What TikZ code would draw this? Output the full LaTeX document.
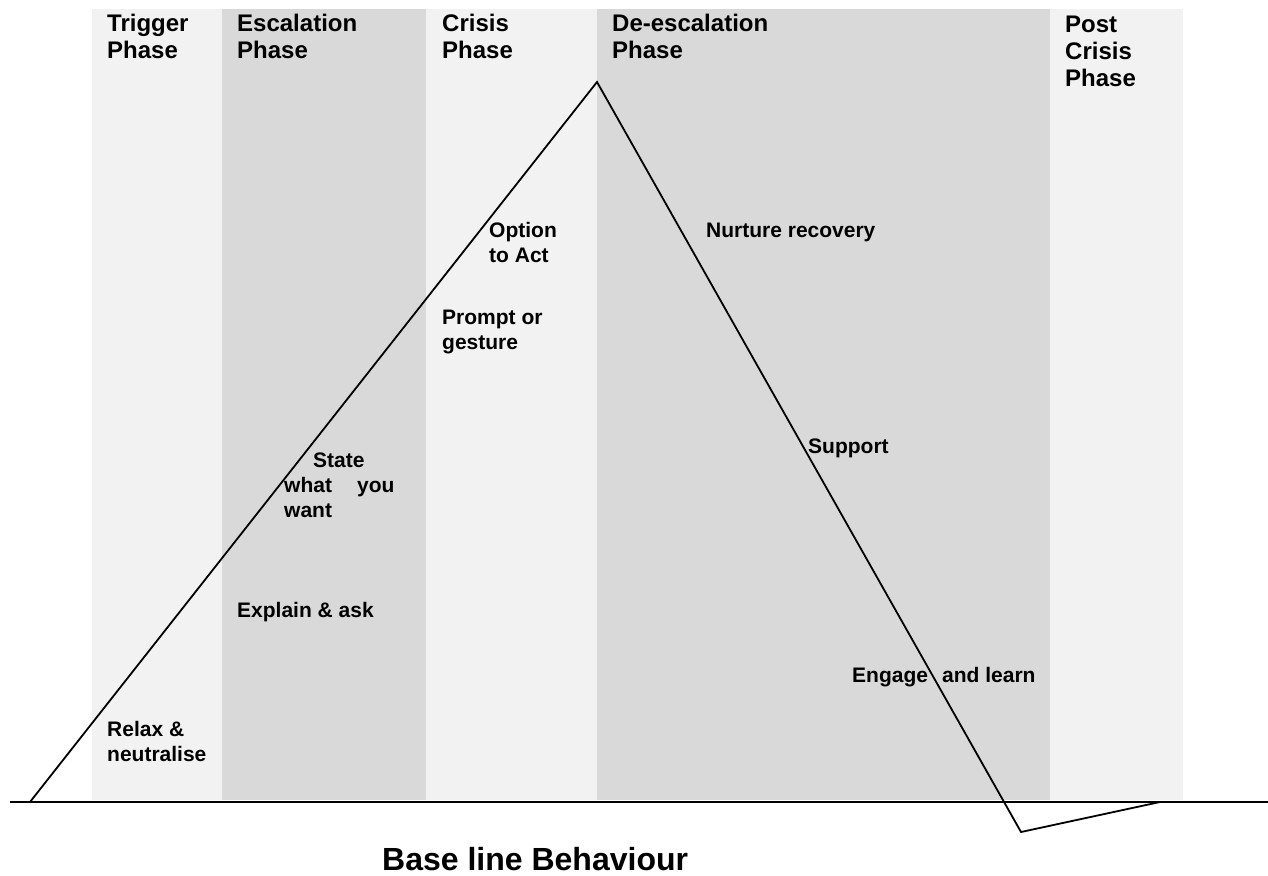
\documentclass[tikz,border=0pt]{standalone}
\usepackage{fontspec}
\setmainfont{Liberation Sans}
\definecolor{bandlight}{HTML}{F2F2F2}
\definecolor{banddark}{HTML}{D9D9D9}
\begin{document}
\begin{tikzpicture}[x=1pt,y=-1pt,
  head/.style={anchor=base west,inner sep=0pt,align=left,font=\fontsize{24}{27}\selectfont\bfseries},
  lbl/.style={anchor=base west,inner sep=0pt,align=left,font=\fontsize{21}{24.5}\selectfont\bfseries},
  curve/.style={line width=1.8pt,line join=miter},
  baseln/.style={line width=2.6pt}]
\useasboundingbox (0,0) rectangle (1268,875);
% bands
\fill[bandlight] (92,9) rectangle (222,800);
\fill[banddark] (222,9) rectangle (426,800);
\fill[bandlight] (426,9) rectangle (597,800);
\fill[banddark] (597,9) rectangle (1050,800);
\fill[bandlight] (1050,9) rectangle (1183,800);
% coordinates
\coordinate (start) at (30,802);
\coordinate (peak) at (597,82);
\coordinate (low) at (1021,832);
\coordinate (back) at (1160,802);
\coordinate (bl) at (10,802);
\coordinate (br) at (1268,802);
% lines
\draw[baseln] (bl) -- (br);
\draw[curve] (start) -- (peak) -- (low) -- (back);
% headings (anchor at baseline of last line)
\node[head] (trig) at (107,59) {Trigger\\Phase};
\node[head] (esc) at (237,59) {Escalation\\Phase};
\node[head] (cri) at (442,59) {Crisis\\Phase};
\node[head] (desc) at (612,59) {De-escalation\\Phase};
\node[head] (post) at (1065,86) {Post\\Crisis\\Phase};
% labels
\node[lbl] (relax) at (107,761) {Relax \&\\neutralise};
\node[lbl] (explain) at (237,617) {Explain \& ask};
\node[lbl] (state) at (313,467) {State};
\node[lbl] (what) at (284,517) {what\\want};
\node[lbl] (you) at (357,492) {you};
\node[lbl] (option) at (489,262) {Option\\to Act};
\node[lbl] (prompt) at (442,349) {Prompt or\\gesture};
\node[lbl] (nurture) at (706,237) {Nurture recovery};
\node[lbl] (support) at (808,453) {Support};
\node[lbl] (engage) at (852,682) {Engage};
\node[lbl] (learn) at (942,682) {and learn};
\node[anchor=base west,inner sep=0pt,font=\fontsize{32}{36}\selectfont\bfseries] (base) at (382,870) {Base line Behaviour};
\end{tikzpicture}
\end{document}
